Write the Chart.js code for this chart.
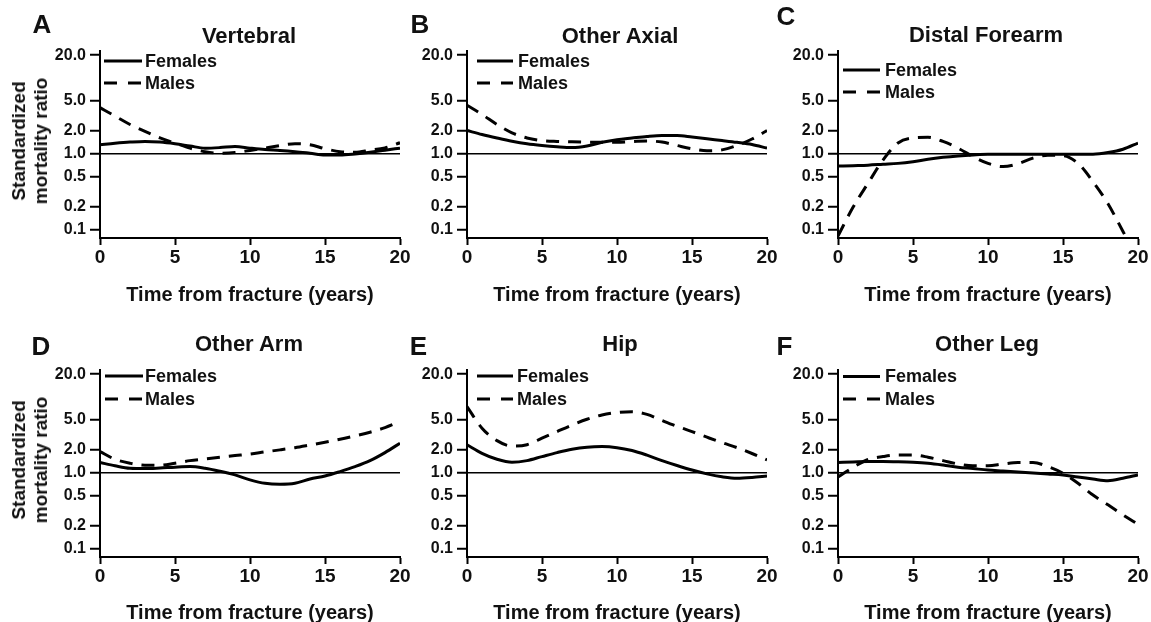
<!DOCTYPE html>
<html>
<head>
<meta charset="utf-8">
<script src="https://cdn.jsdelivr.net/npm/chart.js@4.4.1/dist/chart.umd.min.js"></script>
<style>
  html, body { margin: 0; padding: 0; background: #fff; }
  #wrap { position: relative; width: 1151px; height: 622px; overflow: hidden; background: #fff; }
  canvas { position: absolute; }
  .txt { position: absolute; transform: translate(-50%, -50%); white-space: nowrap; color: #111;
         font-family: "Liberation Sans", Arial, Helvetica, sans-serif; font-weight: bold; }
  .letter { font-size: 26px; }
  .ptitle { font-size: 22px; }
  .xtitle { font-size: 20px; }
  .ytitle { font-size: 19px; line-height: 22px; text-align: center; transform: translate(-50%, -50%) rotate(-90deg); }
</style>
</head>
<body>
<div id="wrap"></div>
<script>
// ---------------- data ----------------
const years = [0,1,2,3,4,5,6,7,8,9,10,11,12,13,14,15,16,17,18,19,20];
const yTickValues = [0.1, 0.2, 0.5, 1, 2, 5, 20];
const xTickValues = [0, 5, 10, 15, 20];
const seriesLabels = ['Females', 'Males'];
const panelLetters = ['A', 'B', 'C', 'D', 'E', 'F'];
const panelTitles = ['Vertebral', 'Other Axial', 'Distal Forearm', 'Other Arm', 'Hip', 'Other Leg'];
const referenceSMR = 1;

const femalesVertebral = [1.32,1.38,1.43,1.46,1.43,1.36,1.27,1.19,1.21,1.25,1.19,1.14,1.11,1.07,1.02,0.97,0.97,1.00,1.05,1.12,1.19];
const malesVertebral   = [4.06,3.15,2.44,1.98,1.62,1.39,1.19,1.07,1.02,1.04,1.11,1.19,1.29,1.36,1.32,1.17,1.07,1.05,1.12,1.20,1.40];

const femalesOtherAxial = [2.03,1.80,1.62,1.47,1.36,1.29,1.24,1.21,1.27,1.42,1.54,1.62,1.70,1.75,1.75,1.67,1.58,1.50,1.42,1.33,1.19];
const malesOtherAxial   = [4.36,3.31,2.44,1.89,1.62,1.50,1.46,1.44,1.43,1.42,1.42,1.45,1.48,1.43,1.29,1.17,1.10,1.13,1.29,1.57,2.03];

const femalesDistalForearm = [0.69,0.70,0.71,0.73,0.75,0.79,0.85,0.90,0.94,0.97,0.99,0.99,0.99,0.99,0.99,0.99,0.99,0.99,1.04,1.15,1.39];
const malesDistalForearm   = [0.083,0.198,0.41,0.83,1.39,1.62,1.65,1.46,1.19,0.92,0.75,0.68,0.74,0.88,0.96,0.95,0.75,0.43,0.22,0.095,0.04];

const femalesOtherArm = [1.37,1.24,1.15,1.14,1.16,1.19,1.21,1.15,1.05,0.94,0.81,0.73,0.71,0.73,0.83,0.91,1.04,1.21,1.45,1.85,2.46];
const malesOtherArm   = [1.91,1.51,1.34,1.26,1.26,1.34,1.45,1.53,1.61,1.69,1.77,1.89,2.01,2.15,2.33,2.53,2.77,3.07,3.43,3.95,4.74];

const femalesHip = [2.34,1.81,1.51,1.38,1.45,1.64,1.85,2.05,2.18,2.22,2.15,1.97,1.71,1.45,1.25,1.09,0.97,0.89,0.85,0.87,0.91];
const malesHip   = [7.46,3.87,2.66,2.25,2.35,2.86,3.50,4.27,5.08,5.80,6.25,6.40,5.90,4.90,4.10,3.50,2.95,2.50,2.15,1.80,1.48];

const femalesOtherLeg = [1.37,1.39,1.41,1.41,1.40,1.38,1.34,1.27,1.19,1.14,1.09,1.06,1.03,1.00,0.97,0.94,0.88,0.83,0.79,0.85,0.94];
const malesOtherLeg   = [0.88,1.18,1.50,1.64,1.72,1.72,1.61,1.45,1.31,1.24,1.24,1.31,1.37,1.37,1.21,0.99,0.73,0.51,0.38,0.28,0.21];

const panelSeries = [
  [femalesVertebral, malesVertebral],
  [femalesOtherAxial, malesOtherAxial],
  [femalesDistalForearm, malesDistalForearm],
  [femalesOtherArm, malesOtherArm],
  [femalesHip, malesHip],
  [femalesOtherLeg, malesOtherLeg]
];

// ---------------- layout (positions / styles only) ----------------
const FONT = '"Liberation Sans", Arial, Helvetica, sans-serif';
const axisLefts = [100, 467, 838, 100, 467, 838];
const rows = [
  { canvasTop: 0,   plotTop: 50.5,  plotBottom: 238 },
  { canvasTop: 310, plotTop: 369.5, plotBottom: 557 }
];
const legendPos = [
  { x0: 4, x1: 42, tx: 45, y: 10.5, gap: 22 },
  { x0: 10, x1: 46, tx: 51, y: 10.5, gap: 22 },
  { x0: 5, x1: 42, tx: 47, y: 19.5, gap: 22 },
  { x0: 5, x1: 43, tx: 45, y: 6.5, gap: 23 },
  { x0: 10, x1: 46, tx: 50, y: 6.5, gap: 23 },
  { x0: 5, x1: 42, tx: 47, y: 7, gap: 22.5 }
];
const letterPos = [[42,24],[420,24],[786,16],[41,346],[418.5,346],[784.5,346]];
const titlePos = [[249,36],[620,36],[986,35],[249,344],[620,344],[987,344]];
const xTitleY = [294, 612];

const CANVAS_W = 375, CANVAS_H = 300, YAXIS_W = 60, XAXIS_H = 40;

const inlineLegend = {
  id: 'inlineLegend',
  afterDatasetsDraw(chart, args, opts) {
    const ctx = chart.ctx, a = chart.chartArea;
    let k = 0;
    chart.data.datasets.forEach((ds) => {
      if (!ds.label) return;
      const y = a.top + opts.y + k * opts.gap;
      k++;
      ctx.save();
      ctx.strokeStyle = ds.borderColor;
      ctx.lineWidth = ds.borderWidth;
      ctx.setLineDash(ds.borderDash ? [13, 11] : []);
      ctx.beginPath();
      ctx.moveTo(a.left + opts.x0, y);
      ctx.lineTo(a.left + opts.x1, y);
      ctx.stroke();
      ctx.setLineDash([]);
      ctx.fillStyle = '#111';
      ctx.font = 'bold 18px ' + FONT;
      ctx.textBaseline = 'middle';
      ctx.textAlign = 'left';
      ctx.fillText(ds.label, a.left + opts.tx, y + 1);
      ctx.restore();
    });
  }
};

const wrap = document.getElementById('wrap');

function addText(cls, text, x, y) {
  const d = document.createElement('div');
  d.className = 'txt ' + cls;
  d.innerHTML = text;
  d.style.left = x + 'px';
  d.style.top = y + 'px';
  wrap.appendChild(d);
}

panelSeries.forEach((series, i) => {
  const row = rows[Math.floor(i / 3)];
  const L = axisLefts[i];
  const cv = document.createElement('canvas');
  cv.width = CANVAS_W; cv.height = CANVAS_H;
  cv.style.left = (L - YAXIS_W) + 'px';
  cv.style.top = row.canvasTop + 'px';
  cv.style.width = CANVAS_W + 'px';
  cv.style.height = CANVAS_H + 'px';
  wrap.appendChild(cv);

  const padTop = row.plotTop - row.canvasTop;
  const padBottom = CANVAS_H - XAXIS_H - (row.plotBottom - row.canvasTop);
  const padRight = CANVAS_W - YAXIS_W - 300;

  new Chart(cv.getContext('2d'), {
    type: 'line',
    data: {
      datasets: [
        {
          label: seriesLabels[0],
          data: years.map((t, j) => ({ x: t, y: series[0][j] })),
          borderColor: '#000', borderWidth: 3, pointRadius: 0, fill: false,
          cubicInterpolationMode: 'monotone'
        },
        {
          label: seriesLabels[1],
          data: years.map((t, j) => ({ x: t, y: series[1][j] })),
          borderColor: '#000', borderWidth: 3, pointRadius: 0, fill: false,
          borderDash: [13, 9],
          cubicInterpolationMode: 'monotone'
        }
      ]
    },
    options: {
      responsive: false,
      animation: false,
      devicePixelRatio: 1,
      layout: { padding: { top: padTop, bottom: padBottom, left: 0, right: padRight } },
      plugins: {
        legend: { display: false },
        tooltip: { enabled: false },
        title: { display: false },
        inlineLegend: legendPos[i]
      },
      scales: {
        x: {
          type: 'linear', min: 0, max: 20, bounds: 'data',
          afterBuildTicks: (s) => { s.ticks = xTickValues.map(v => ({ value: v })); },
          afterFit: (s) => { s.height = XAXIS_H; },
          grid: { display: true, drawOnChartArea: false, drawTicks: true, tickLength: 7, tickColor: '#000', tickWidth: 2 },
          border: { display: true, color: '#000', width: 2 },
          ticks: { color: '#111', padding: 1, maxRotation: 0, autoSkip: false,
                   font: { family: FONT, size: 19, weight: 'bold' } }
        },
        y: {
          type: 'logarithmic', min: 0.078, max: 23, bounds: 'data',
          afterBuildTicks: (s) => { s.ticks = yTickValues.map(v => ({ value: v })); },
          afterFit: (s) => { s.width = YAXIS_W; },
          grid: {
            display: true, drawOnChartArea: true, drawTicks: true, tickLength: 10, tickWidth: 2, tickColor: '#000',
            color: (c) => (c.tick && c.tick.value === referenceSMR) ? '#000' : 'rgba(0,0,0,0)',
            lineWidth: 1.5
          },
          border: { display: true, color: '#000', width: 2 },
          ticks: { color: '#111', padding: 4, autoSkip: false,
                   callback: (v) => Number(v).toFixed(1),
                   font: { family: FONT, size: 16, weight: 'bold' } }
        }
      }
    },
    plugins: [inlineLegend]
  });

  addText('letter', panelLetters[i], letterPos[i][0], letterPos[i][1]);
  addText('ptitle', panelTitles[i], titlePos[i][0], titlePos[i][1]);
  addText('xtitle', 'Time from fracture (years)', L + 150, xTitleY[Math.floor(i / 3)]);
  if (i % 3 === 0) {
    addText('ytitle', 'Standardized<br>mortality ratio', 29.5, Math.floor(i / 3) === 0 ? 141 : 460);
  }
});
</script>
</body>
</html>
